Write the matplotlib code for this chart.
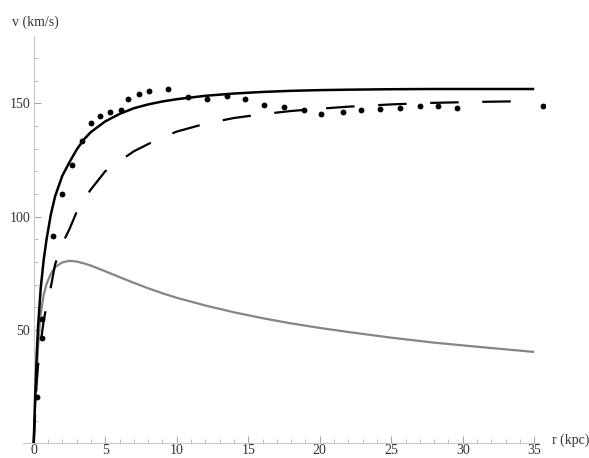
import matplotlib
matplotlib.use("Agg")
import matplotlib.pyplot as plt

plt.rcParams["lines.scale_dashes"] = False

# Radii (kpc) where the model curves are tabulated
r_model = [0, 0.1, 0.2, 0.3, 0.4, 0.5, 0.7, 0.9, 1.2, 1.5, 2, 2.5, 3, 3.5, 4,
           5, 6, 7, 8, 9, 10, 12, 14, 16, 18, 20, 22, 25, 28, 31, 35]

# Total model rotation curve (km/s)
v_total = [0, 20, 37, 51, 60, 69, 81, 90, 101, 109, 118, 124, 129.5, 134, 137.3,
           142, 145.3, 147.8, 149.5, 150.8, 151.8, 153.3, 154.3, 155, 155.5,
           155.8, 156, 156.2, 156.3, 156.3, 156.3]

# Dark halo contribution (km/s)
v_halo = [0, 13, 26, 34, 40, 45, 54, 61, 69, 79, 88, 94.5, 102, 107.5, 112,
          120, 124.5, 128.8, 132, 135, 137.5, 141, 143.5, 145.2, 146.6, 147.6,
          148.5, 149.5, 150.2, 150.6, 151]

# Baryonic (disk) contribution (km/s)
v_disk = [0, 16, 30, 42, 51, 57.5, 65.5, 70.3, 74.8, 77.8, 79.8, 80.5, 80.2,
          79.4, 78.4, 75.9, 73.3, 70.8, 68.4, 66.2, 64.2, 60.8, 57.8, 55.2,
          52.9, 50.9, 49.1, 46.6, 44.4, 42.6, 40.3]

# Observed rotation velocities
r_obs = [0.22, 0.56, 0.6, 1.35, 2.0, 2.7, 3.38, 4.04, 4.66, 5.32, 6.07, 6.61,
         7.34, 8.03, 9.36, 10.8, 12.1, 13.5, 14.8, 16.1, 17.5, 18.9, 20.1,
         21.6, 22.9, 24.2, 25.6, 27.0, 28.3, 29.6, 35.6]
v_obs = [20.6, 46.3, 55, 91.5, 109.8, 122.9, 133.2, 141.3, 144.3, 146.2, 146.9,
         151.8, 154.1, 155.2, 156.2, 152.8, 152, 153, 152, 149.4, 148.4, 147.2,
         145.2, 146.2, 147.2, 147.3, 148, 149, 149, 148, 148.7]

x_ticks = [0, 5, 10, 15, 20, 25, 30, 35]
y_ticks = [50, 100, 150]

fig = plt.figure(figsize=(5.89, 4.58), dpi=100)
ax = fig.add_axes([0.0390, 0.0321, 0.8862, 0.8884])
ax.set_xlim(-0.75, 35.75)
ax.set_ylim(0, 179.5)

ax.plot(r_model, v_disk, color="#858585", lw=1.6, solid_capstyle="butt",
        solid_joinstyle="round", zorder=2)
ax.plot(r_model, v_halo, color="black", lw=1.6, dashes=(20.5, 17),
        dash_capstyle="butt", zorder=3)
ax.plot(r_model, v_total, color="black", lw=1.8, solid_capstyle="butt",
        solid_joinstyle="round", zorder=4)
ax.plot(r_obs, v_obs, "o", color="black", ms=4.2, mew=0, zorder=5)

# Axes drawn through the origin
for side in ("top", "right"):
    ax.spines[side].set_visible(False)
ax.spines["left"].set_position(("data", 0))
ax.spines["bottom"].set_position(("data", 0))
ax.spines["bottom"].set_bounds(-0.75, 35.3)
for side in ("left", "bottom"):
    ax.spines[side].set_color("#c8c8c8")
    ax.spines[side].set_linewidth(0.8)

ax.set_xticks(x_ticks)
ax.set_xticklabels([str(t) for t in x_ticks])
ax.set_xticks(range(1, 36), minor=True)
ax.set_yticks(y_ticks)
ax.set_yticklabels([str(t) for t in y_ticks])
ax.set_yticks([10, 20, 30, 40, 60, 70, 80, 90, 110, 120, 130, 140, 160, 170],
              minor=True)

ax.tick_params(axis="both", which="major", direction="in", length=5,
               width=0.7, color="#a0a0a0", labelcolor="#333333", labelsize=10)
ax.tick_params(axis="x", which="major", pad=0.8)
ax.tick_params(axis="y", which="major", pad=2.5)
ax.tick_params(axis="both", which="minor", direction="in", length=2.8,
               width=0.6, color="#b0b0b0")
for lab in ax.get_xticklabels() + ax.get_yticklabels():
    lab.set_fontfamily("Liberation Serif")

fig.text(12 / 589, 1 - 22 / 458, "v (km/s)", ha="left", va="center",
         fontsize=10, family="Liberation Serif", color="#333333")
fig.text(552 / 589, 1 - 440 / 458, "r (kpc)", ha="left", va="center",
         fontsize=10, family="Liberation Serif", color="#333333")

fig.savefig("out.png", dpi=100)
